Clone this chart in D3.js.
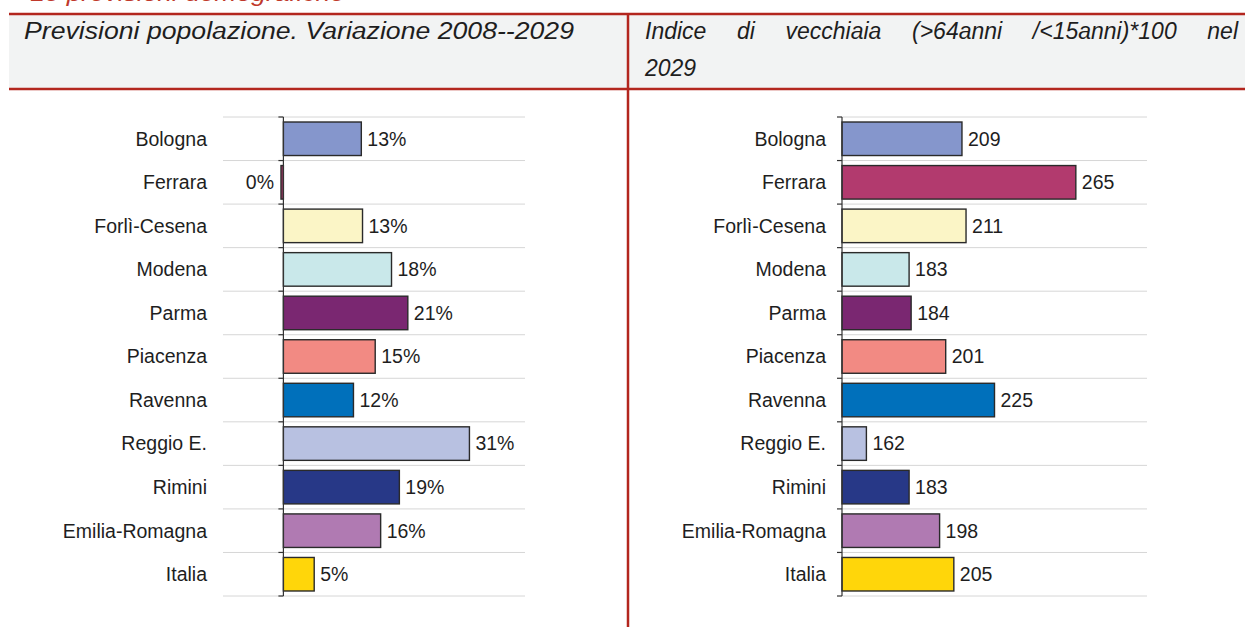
<!DOCTYPE html>
<html>
<head>
<meta charset="utf-8">
<script src="https://cdn.jsdelivr.net/npm/d3@7"></script>
<style>
  body { margin: 0; background: #fff; }
  text { font-family: "Liberation Sans", Arial, sans-serif; fill: #1e1e1e; }
  .title { font-style: italic; font-size: 23px; }
  .kicker { font-style: italic; font-size: 22px; fill: #c0392b; }
  .cat, .val { font-size: 19.5px; }
  .grid { stroke: #d6d6d6; stroke-width: 1; }
  .bar { stroke: #2a2a2a; stroke-width: 1.4; }
  .axisLine { stroke: #333; stroke-width: 1.2; }
  .frame { stroke: #b3261e; stroke-width: 2.5; }
</style>
</head>
<body>
<svg id="chart" width="1245" height="627"></svg>
<script>
// data
const categories = ['Bologna', 'Ferrara', 'Forlì-Cesena', 'Modena', 'Parma', 'Piacenza',
  'Ravenna', 'Reggio E.', 'Rimini', 'Emilia-Romagna', 'Italia'];
const popChange = [12.9, -0.4, 13.1, 17.9, 20.6, 15.2, 11.6, 30.8, 19.2, 16.1, 5.1];   // % 2008-2029
const oldAgeIndex = [209, 265, 211, 183, 184, 201, 225, 162, 183, 198, 205];          // 2029
const barColors = ['#8596cc', '#b23a6e', '#fbf5c6', '#c9e8ea', '#7a2771', '#f28a83',
  '#0070bb', '#b8c1e1', '#273887', '#b07ab2', '#ffd60a'];
const leftTitle = 'Previsioni popolazione. Variazione 2008--2029';
const rightTitle = ['Indice di vecchiaia (>64anni /<15anni)*100 nel', '2029'];
const kicker = 'Le previsioni demografiche';

const width = 1245, height = 627;
const svg = d3.select('#chart');

// header band
svg.append('rect')
  .attr('x', 9).attr('y', 14)
  .attr('width', width - 9).attr('height', 75)
  .attr('fill', '#f2f3f3');

// red heading of the page above, cut by the top edge as in the source
svg.append('text')
  .attr('class', 'kicker')
  .attr('x', 30).attr('y', 1)
  .attr('textLength', 315)
  .attr('lengthAdjust', 'spacingAndGlyphs')
  .text(kicker);

svg.append('text')
  .attr('class', 'title')
  .attr('x', 24).attr('y', 39)
  .attr('textLength', 550)
  .attr('lengthAdjust', 'spacingAndGlyphs')
  .text(leftTitle);

// right title is justified on its first line
let rt = svg.append('text')
  .attr('class', 'title')
  .attr('x', 645).attr('y', 39)
  .text(rightTitle[0]);
let natural = rt.node().getComputedTextLength();
let gaps = rightTitle[0].split(' ').length - 1;
rt.style('word-spacing', ((593 - natural) / gaps) + 'px');

svg.append('text')
  .attr('class', 'title')
  .attr('x', 645).attr('y', 76)
  .text(rightTitle[1]);

// red frame lines
svg.append('line').attr('class', 'frame')
  .attr('x1', 9).attr('x2', width).attr('y1', 14).attr('y2', 14);
svg.append('line').attr('class', 'frame')
  .attr('x1', 9).attr('x2', width).attr('y1', 89).attr('y2', 89);
svg.append('line').attr('class', 'frame')
  .attr('x1', 628).attr('x2', 628).attr('y1', 14).attr('y2', height);

function drawPanel(values, domain, plotLeft, plotRight, fmt){
  const x = d3.scaleLinear().domain(domain).range([plotLeft, plotRight]);
  const y = d3.scaleBand()
    .domain(categories)
    .range([117, 596])
    .paddingInner(0.23)
    .paddingOuter(0.115);
  const base = Math.max(domain[0], 0);
  const half = y.step() * y.paddingInner() / 2;

  // band boundaries: gridlines and axis ticks sit here
  const bounds = categories.map(c => y(c) - half);
  bounds.push(y(categories[categories.length - 1]) + y.bandwidth() + half);

  const g = svg.append('g');

  g.selectAll('.grid')
    .data(bounds)
    .enter()
    .append('line')
      .attr('class', 'grid')
      .attr('x1', plotLeft).attr('x2', plotRight)
      .attr('y1', d => d).attr('y2', d => d);

  g.selectAll('.bar')
    .data(values)
    .enter()
    .append('rect')
      .attr('class', 'bar')
      .attr('x', d => Math.min(x(base), x(d)))
      .attr('y', (d, i) => y(categories[i]))
      .attr('width', d => Math.abs(x(d) - x(base)))
      .attr('height', y.bandwidth())
      .attr('fill', (d, i) => barColors[i]);

  // category axis
  g.append('line')
    .attr('class', 'axisLine')
    .attr('x1', x(base)).attr('x2', x(base))
    .attr('y1', bounds[0]).attr('y2', bounds[bounds.length - 1]);
  g.selectAll('.tick')
    .data(bounds)
    .enter()
    .append('line')
      .attr('class', 'axisLine')
      .attr('x1', x(base) - 5).attr('x2', x(base))
      .attr('y1', d => d).attr('y2', d => d);

  g.selectAll('.cat')
    .data(categories)
    .enter()
    .append('text')
      .attr('class', 'cat')
      .attr('x', plotLeft - 16)
      .attr('y', d => y(d) + y.bandwidth() / 2)
      .attr('dy', '0.35em')
      .style('text-anchor', 'end')
      .text(d => d);

  g.selectAll('.val')
    .data(values)
    .enter()
    .append('text')
      .attr('class', 'val')
      .attr('x', d => d >= base ? x(d) + 6 : x(d) - 7)
      .attr('y', (d, i) => y(categories[i]) + y.bandwidth() / 2)
      .attr('dy', '0.35em')
      .style('text-anchor', d => d >= base ? 'start' : 'end')
      .text(fmt);
}

drawPanel(popChange, [-10, 40], 223, 525, d => Math.abs(Math.round(d)) + '%');
drawPanel(oldAgeIndex, [150, 300], 842, 1147, d3.format('d'));
</script>
</body>
</html>
